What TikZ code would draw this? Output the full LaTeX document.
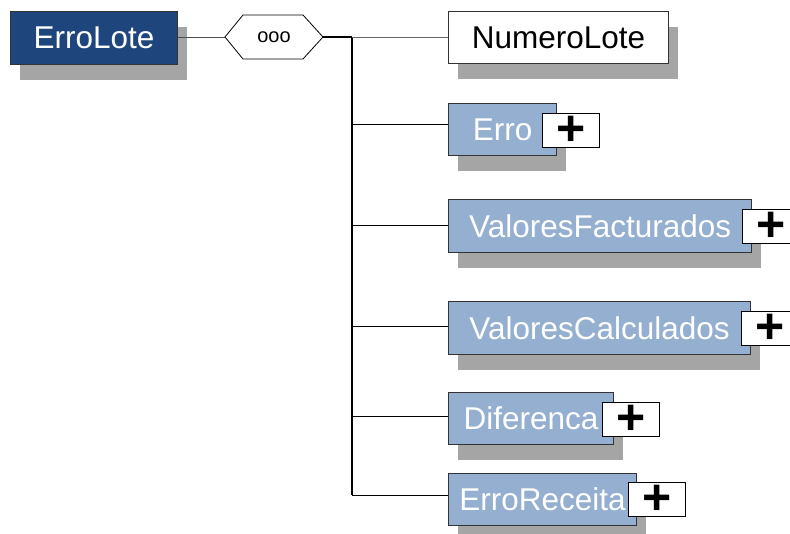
\documentclass[tikz,border=0pt]{standalone}
\usepackage{fontspec}
\setmainfont{Liberation Sans}
\usetikzlibrary{shadows}
\definecolor{darkbox}{HTML}{1F467C}
\definecolor{lightbox}{HTML}{95AFD0}
\definecolor{shadowgray}{HTML}{A5A5A5}
\definecolor{edgegray}{HTML}{333333}
\tikzset{
  elem/.style={draw=edgegray, line width=1.2pt, anchor=north west, inner sep=0pt,
    font=\fontsize{31.5}{31.5}\selectfont,
    general shadow={shadow xshift=9pt, shadow yshift=-15pt, fill=shadowgray}},
  complexel/.style={elem, fill=lightbox, text=white},
  simpleel/.style={elem, fill=white, text=black},
  rootel/.style={elem, fill=darkbox, text=white},
  plusbox/.style={draw=black, line width=1pt, fill=white, anchor=north west,
    minimum width=57pt, minimum height=34pt, inner sep=0pt,
    font=\fontsize{50}{50}\selectfont\bfseries},
  branch/.style={draw=black, line width=1pt},
  trunkline/.style={draw=black, line width=1.6pt},
}
\begin{document}
\begin{tikzpicture}[x=1pt,y=-1pt]
\useasboundingbox (0,0) rectangle (790,533);
% root
\node[rootel, minimum width=167pt, minimum height=53pt] (root) at (10,11) {ErroLote};
% sequence hexagon
\draw[draw=black, line width=0.8pt, fill=white] (225,37) -- (243,15) -- (303,15) -- (323,37) -- (303,59) -- (243,59) -- cycle;
\coordinate (hexL) at (225,37);
\coordinate (hexR) at (323,37);
\node[font=\fontsize{20}{20}\selectfont, inner sep=0pt] (seq) at (274,37) {ooo};
% children
\node[simpleel, minimum width=220pt, minimum height=52pt] (num) at (448,11) {NumeroLote};
\node[complexel, minimum width=108pt, minimum height=52pt] (erro) at (448,103) {Erro};
\node[complexel, minimum width=303pt, minimum height=53pt] (vf) at (448,199) {ValoresFacturados};
\node[complexel, minimum width=302pt, minimum height=53pt] (vc) at (448,301) {ValoresCalculados};
\node[complexel, minimum width=165pt, minimum height=52pt] (dif) at (448,392) {Diferenca};
\node[complexel, minimum width=188pt, minimum height=52pt] (er) at (448,473) {ErroReceita};
% plus boxes
\node[plusbox] (perro) at (542,113) {+};
\node[plusbox] (pvf) at (742,209) {+};
\node[plusbox] (pvc) at (741,311) {+};
\node[plusbox] (pdif) at (602,402) {+};
\node[plusbox] (per) at (628,482) {+};
% connectors
\coordinate (t0) at (352,37);
\coordinate (t1) at (352,124);
\coordinate (t2) at (352,225);
\coordinate (t3) at (352,326);
\coordinate (t4) at (352,416);
\coordinate (t5) at (352,495);
\draw[draw=black!70, line width=1pt] (root.east |- hexL) -- (hexL);
\draw[trunkline] (hexR) -- (t0);
\draw[trunkline] (t0) -- (t5);
\draw[draw=black!60, line width=1pt] (t0) -- (t0 -| num.west);
\draw[branch] (t1) -- (t1 -| erro.west);
\draw[branch] (t2) -- (t2 -| vf.west);
\draw[branch] (t3) -- (t3 -| vc.west);
\draw[branch] (t4) -- (t4 -| dif.west);
\draw[branch] (t5) -- (t5 -| er.west);
\end{tikzpicture}
\end{document}
